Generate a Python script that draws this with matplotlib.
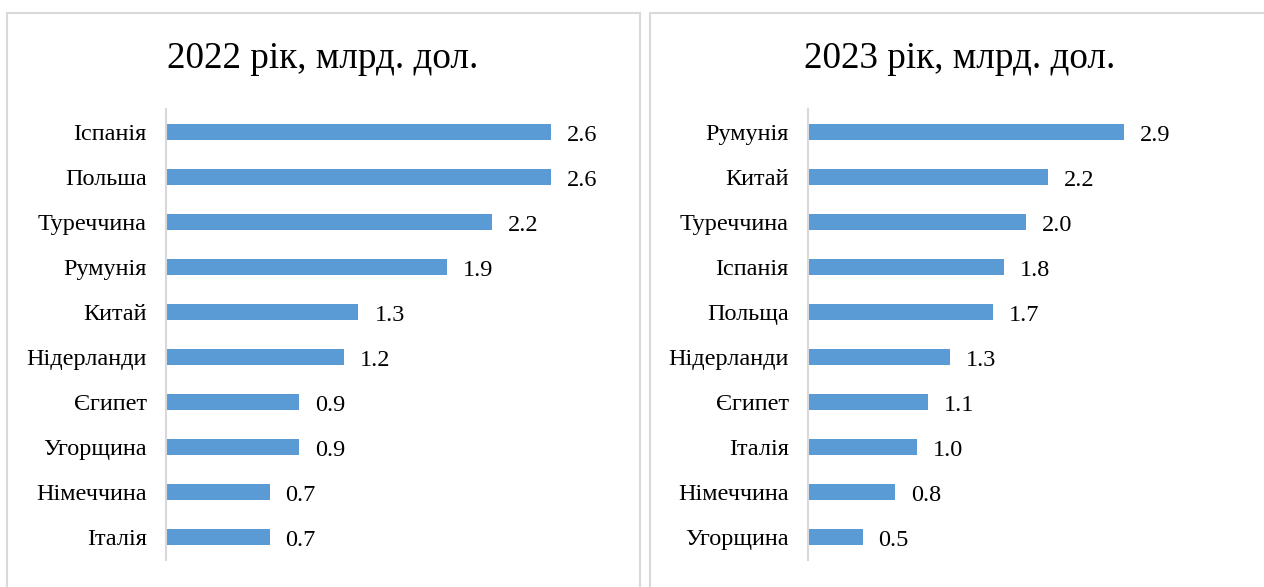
import matplotlib.pyplot as plt
from matplotlib.patches import Rectangle

countries_2022 = ['Іспанія', 'Польша', 'Туреччина', 'Румунія', 'Китай',
                  'Нідерланди', 'Єгипет', 'Угорщина', 'Німеччина', 'Італія']
values_2022 = [2.6, 2.6, 2.2, 1.9, 1.3, 1.2, 0.9, 0.9, 0.7, 0.7]

countries_2023 = ['Румунія', 'Китай', 'Туреччина', 'Іспанія', 'Польща',
                  'Нідерланди', 'Єгипет', 'Італія', 'Німеччина', 'Угорщина']
values_2023 = [2.9, 2.2, 2.0, 1.8, 1.7, 1.3, 1.1, 1.0, 0.8, 0.5]

titles = ['2022 рік, млрд. дол.', '2023 рік, млрд. дол.']

plt.rcParams['font.family'] = ['Liberation Serif', 'DejaVu Serif']

W, H = 1264, 587
BAR = '#5B9BD5'
GRID = '#d9d9d9'


def draw_panel(fig, rect, xmax, names, vals):
    ax = fig.add_axes(rect)
    pos = list(range(len(names)))
    ax.barh(pos, vals, height=0.36, color=BAR)
    ax.set_ylim(len(names) - 0.5, -0.5)
    ax.set_xlim(0, xmax)
    ax.set_yticks(pos)
    ax.set_yticklabels(names, fontsize=17.5)
    ax.tick_params(axis='y', length=0, pad=14)
    ax.set_xticks([])
    for s in ['top', 'right', 'bottom']:
        ax.spines[s].set_visible(False)
    ax.spines['left'].set_color(GRID)
    ax.spines['left'].set_linewidth(1.5)
    for p, v in zip(pos, vals):
        # value label just right of the bar end
        ax.annotate('%.1f' % v, (v, p), xytext=(11.5, -6.5), textcoords='offset points',
                    va='baseline', ha='left', fontsize=17.5)
    return ax


def main():
    fig = plt.figure(figsize=(W / 100, H / 100), dpi=100)

    # panel borders
    fig.patches.append(Rectangle((7 / W, -0.05), 633 / W, 1.05 - 13 / H, transform=fig.transFigure,
                                 fill=False, edgecolor=GRID, linewidth=1.5))
    fig.patches.append(Rectangle((650 / W, -0.05), 640 / W, 1.05 - 13 / H, transform=fig.transFigure,
                                 fill=False, edgecolor=GRID, linewidth=1.5))

    bottom = 27.5 / H
    height = 450 / H
    draw_panel(fig, [166 / W, bottom, 444 / W, height], 3.0, countries_2022, values_2022)
    draw_panel(fig, [808 / W, bottom, 381.5 / W, height], 3.5, countries_2023, values_2023)

    fig.text(322.5 / W, (H - 68) / H, titles[0], ha='center', va='baseline', fontsize=26.7)
    fig.text(960 / W, (H - 68) / H, titles[1], ha='center', va='baseline', fontsize=26.7)

    fig.savefig('out.png', dpi=100)


if __name__ == '__main__':
    main()
